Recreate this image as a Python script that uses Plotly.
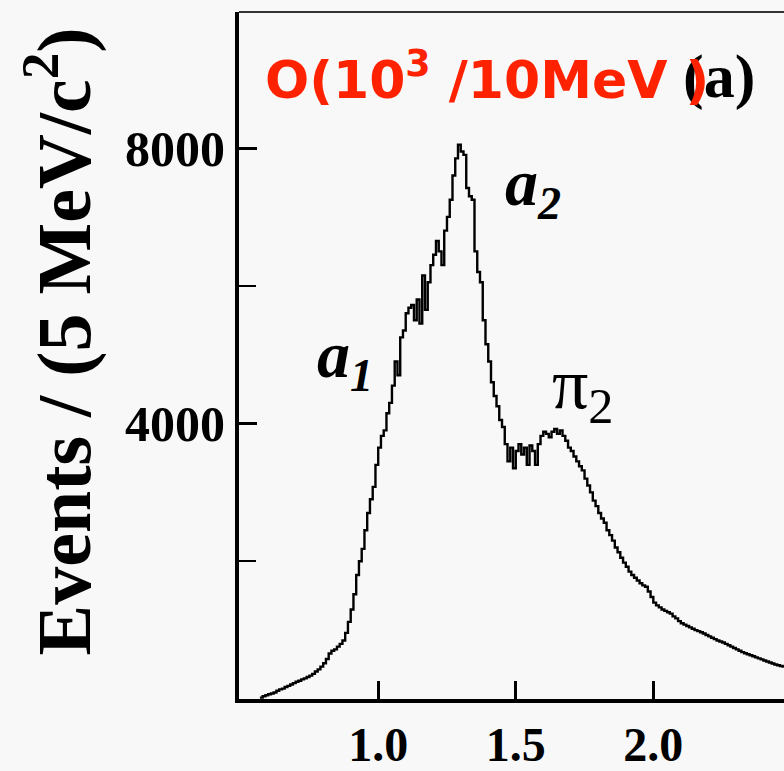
import plotly.graph_objects as go

# Invariant mass spectrum, counts per bin (left bin edges in GeV/c^2)
bin_start = 0.57
bin_width = 0.01
counts = [
    20, 40, 55, 70, 80, 95, 120, 140, 150, 175,          # 0.57 - 0.66
    190, 210, 230, 250, 265, 285, 300, 320, 340, 365,    # 0.67 - 0.76
    400, 430, 470, 520, 580, 660, 700, 720, 760, 800,    # 0.77 - 0.86
    850, 960, 1120, 1300, 1520, 1800, 2000, 2180, 2450, 2700,  # 0.87 - 0.96
    2900, 3080, 3400, 3650, 3820, 3900, 4150, 4300, 4550, 4900,  # 0.97 - 1.06
    4700, 5250, 5350, 5600, 5680, 5720, 5500, 5800, 5450, 6150,  # 1.07 - 1.16
    5650, 6050, 6300, 6450, 6650, 6500, 6300, 6800, 7000, 7250,  # 1.17 - 1.26
    7600, 7850, 8050, 7950, 7900, 7420, 7300, 7250, 6500, 6200,  # 1.27 - 1.36
    6050, 5500, 5150, 4900, 4600, 4400, 4250, 4050, 3950, 3700,  # 1.37 - 1.46
    3450, 3650, 3350, 3600, 3700, 3550, 3650, 3400, 3680, 3600,  # 1.47 - 1.56
    3400, 3700, 3820, 3880, 3850, 3800, 3880, 3920, 3850, 3900,  # 1.57 - 1.66
    3820, 3750, 3650, 3600, 3520, 3450, 3380, 3320, 3200, 3100,  # 1.67 - 1.76
    3000, 2880, 2800, 2700, 2620, 2560, 2450, 2380, 2300, 2200,  # 1.77 - 1.86
    2130, 2050, 1980, 1920, 1850, 1800, 1760, 1720, 1680, 1650,  # 1.87 - 1.96
    1630, 1560, 1480, 1400, 1360, 1330, 1300, 1280, 1260, 1240,  # 1.97 - 2.06
    1200, 1170, 1130, 1100, 1080, 1060, 1040, 1020, 1000, 985,   # 2.07 - 2.16
    970, 950, 930, 910, 890, 870, 850, 835, 820, 800,            # 2.17 - 2.26
    780, 760, 740, 720, 700, 680, 665, 650, 635, 620,            # 2.27 - 2.36
    605, 590, 575, 560, 545, 530, 515, 500, 490, 480,            # 2.37 - 2.46
    470, 460,                                                    # 2.47 - 2.48
]

x_tick_vals = [1.0, 1.5, 2.0]
x_tick_text = ["1.0", "1.5", "2.0"]
y_tick_vals = [4000, 8000]
y_tick_text = ["4000", "8000"]
y_minor_vals = [2000, 6000]

edges = [round(bin_start + i * bin_width, 3) for i in range(len(counts) + 1)]
yvals = counts + [counts[-1]]

serif = "Liberation Serif, Times New Roman, serif"

fig = go.Figure()
fig.add_trace(go.Scatter(
    x=edges, y=yvals, mode="lines", line_shape="hv",
    line=dict(color="black", width=2.4), showlegend=False,
))

fig.update_layout(
    width=784, height=771,
    margin=dict(l=239, r=0, t=12, b=56),
    paper_bgcolor="#f8f8f8", plot_bgcolor="#f8f8f8",
    xaxis=dict(
        range=[0.494, 2.475], showgrid=False, zeroline=False,
        showline=True, linecolor="black", linewidth=4, mirror=False,
        ticks="inside", ticklen=18, tickwidth=2.5, tickcolor="black",
        tickvals=x_tick_vals, ticktext=x_tick_text,
        tickfont=dict(family=serif, size=48, color="black", weight="bold"),
    ),
    yaxis=dict(
        range=[0, 9975], showgrid=False, zeroline=False,
        showline=True, linecolor="black", linewidth=4,
        ticks="inside", ticklen=18, tickwidth=3, tickcolor="black",
        tickvals=y_tick_vals, ticktext=y_tick_text,
        tickfont=dict(family=serif, size=50, color="black", weight="bold"),
        minor=dict(tickvals=y_minor_vals, ticks="inside", ticklen=17,
                   tickwidth=2, tickcolor="black"),
    ),
    shapes=[dict(type="line", xref="paper", yref="paper", x0=0, x1=1, y0=1, y1=1,
                 line=dict(color="#333333", width=2))],
)

ann = []
ann.append(dict(text="Events / (5 MeV/c<sup>2</sup>)", textangle=-90,
                xref="paper", yref="paper", x=0, y=0.5, xshift=-180, yshift=14,
                xanchor="center", yanchor="middle", showarrow=False,
                font=dict(family=serif, size=76, color="black", weight="bold")))
ann.append(dict(text="<i>a<sub>2</sub></i>", x=1.5625, y=7428, xref="x", yref="y",
                showarrow=False, xanchor="center", yanchor="middle",
                font=dict(family=serif, size=66, color="black", weight="bold")))
ann.append(dict(text="<i>a<sub>1</sub></i>", x=0.879, y=4931, xref="x", yref="y",
                showarrow=False, xanchor="center", yanchor="middle",
                font=dict(family=serif, size=66, color="black", weight="bold")))
ann.append(dict(text="\u03c0<sub>2</sub>", x=1.744, y=4505, xref="x", yref="y",
                showarrow=False, xanchor="center", yanchor="middle",
                font=dict(family=serif, size=72, color="black")))
ann.append(dict(text="(a)", x=2.239, y=9045, xref="x", yref="y",
                showarrow=False, xanchor="center", yanchor="middle",
                font=dict(family=serif, size=62, color="black", weight="bold")))
ann.append(dict(text="O(10<sup>3</sup> /10MeV )", xref="paper", yref="paper",
                x=(263 - 239) / 545, y=1, yshift=-64, xanchor="left", yanchor="middle",
                showarrow=False,
                font=dict(family="DejaVu Sans, Verdana, sans-serif", size=52,
                          color="#ff2200", weight="bold")))
fig.update_layout(annotations=ann)

fig.write_html("out.html")
